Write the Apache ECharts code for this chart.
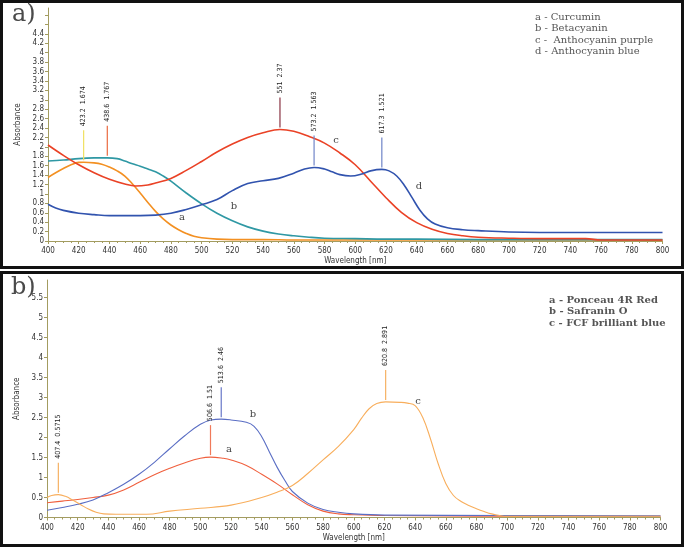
<!DOCTYPE html>
<html>
<head>
<meta charset="utf-8">
<script src="https://cdn.jsdelivr.net/npm/echarts/dist/echarts.min.js"></script>
<style>html,body{margin:0;padding:0;background:#fff}#main{width:685px;height:548px}</style>
</head>
<body>
<div id="main"></div>
<script>
var chart = echarts.init(document.getElementById('main'));

// panel a) natural dyes
var curcuminX = [400,405,410,415,420,423.2,430,435,440,445,450,455,460,465,470,475,480,485,490,495,500,510,520,540,560,600,640,700,780,800];
var curcuminY = [1.35,1.45,1.54,1.62,1.67,1.674,1.66,1.63,1.57,1.49,1.38,1.21,1.02,0.82,0.63,0.47,0.34,0.24,0.16,0.1,0.07,0.04,0.03,0.03,0.02,0.02,0.02,0.02,0.02,0.01];
var betacyaninX = [400,410,420,430,438.6,445,450,455,460,465,470,475,480,490,500,510,520,530,540,550,560,570,580,600,620,640,680,720,800];
var betacyaninY = [1.70,1.72,1.75,1.765,1.767,1.75,1.70,1.64,1.59,1.53,1.47,1.38,1.27,1.02,0.79,0.59,0.43,0.3,0.21,0.15,0.11,0.08,0.06,0.05,0.04,0.04,0.03,0.03,0.03];
var purpleX = [400,410,420,430,440,450,457,465,470,480,490,500,510,520,530,540,551,560,570,580,590,600,610,620,630,640,650,660,670,680,700,720,750,760,800];
var purpleY = [2.04,1.82,1.62,1.45,1.31,1.21,1.17,1.19,1.23,1.33,1.5,1.69,1.89,2.06,2.2,2.3,2.37,2.33,2.22,2.08,1.87,1.62,1.27,0.92,0.61,0.39,0.25,0.16,0.11,0.08,0.06,0.05,0.05,0.02,0.02];
var blueX = [400,405,410,420,430,440,450,460,470,480,490,500,510,520,530,540,550,560,567,573.2,580,585,590,597,605,610,617.3,622,627,632,637,642,647,652,660,670,680,700,720,800];
var blueY = [0.78,0.7,0.65,0.59,0.56,0.54,0.54,0.54,0.55,0.59,0.67,0.77,0.88,1.07,1.22,1.28,1.33,1.44,1.53,1.563,1.53,1.47,1.41,1.38,1.43,1.49,1.521,1.49,1.38,1.18,0.92,0.66,0.47,0.36,0.28,0.24,0.22,0.19,0.18,0.18];
var peakAX = [423.2, 438.6, 551, 573.2, 617.3];
var peakAY = [1.674, 1.767, 2.37, 1.563, 1.521];
var legendA = ['a - Curcumin', 'b - Betacyanin', 'c -  Anthocyanin purple', 'd - Anthocyanin blue'];

// panel b) synthetic dyes
var ponceauX = [400,410,420,430,440,450,460,470,480,490,500,506.6,515,520,530,540,550,560,570,580,590,600,620,660,700,800];
var ponceauY = [0.37,0.41,0.45,0.5,0.56,0.69,0.88,1.07,1.23,1.37,1.48,1.51,1.48,1.44,1.3,1.08,0.84,0.57,0.32,0.16,0.09,0.07,0.05,0.04,0.03,0.03];
var safraninX = [400,410,420,430,440,450,460,470,480,490,500,507,513.6,520,530,535,540,545,550,555,560,570,580,590,600,620,700,800];
var safraninY = [0.18,0.25,0.33,0.44,0.62,0.83,1.08,1.38,1.72,2.05,2.33,2.44,2.46,2.44,2.38,2.28,2.02,1.64,1.26,0.93,0.65,0.36,0.2,0.13,0.09,0.06,0.05,0.04];
var fcfX = [400,403,407.4,412,417,422,427,432,437,445,465,480,500,520,540,550,560,570,580,590,600,605,610,615,620.8,630,635,640,645,650,655,660,665,670,675,680,685,690,695,700,800];
var fcfY = [0.5,0.55,0.5715,0.53,0.43,0.32,0.21,0.13,0.09,0.08,0.08,0.16,0.23,0.31,0.5,0.63,0.8,1.1,1.44,1.78,2.2,2.48,2.72,2.85,2.891,2.88,2.86,2.8,2.5,1.97,1.35,0.85,0.55,0.4,0.3,0.22,0.15,0.09,0.05,0.03,0.03];
var peakBX = [407.4, 506.6, 513.6, 620.8];
var peakBY = [0.5715, 1.51, 2.46, 2.891];
var legendB = ['a - Ponceau 4R Red', 'b - Safranin O', 'c - FCF brilliant blue'];

var peakAColors = ['#f0e060', '#ea6a40', '#8a3444', '#6f84c8', '#6f84c8'];
var peakBColors = ['#f6b264', '#f07a5a', '#6878c8', '#f6b264'];

var axisCol = '#a39c60';
var tickFont = '"Liberation Sans Narrow", "DejaVu Sans Condensed", "Liberation Sans", sans-serif';

function curve(xs, ys, color, width, idx) {
    return {
        type: 'line', xAxisIndex: idx, yAxisIndex: idx,
        data: xs.map(function (x, i) { return [x, ys[i]]; }),
        symbol: 'none', smooth: 0.4,
        lineStyle: { color: color, width: width },
        silent: true, animation: false
    };
}

function peaks(xs, ys, colors, idx) {
    return {
        type: 'custom', xAxisIndex: idx, yAxisIndex: idx,
        data: xs.map(function (x, i) { return [x, ys[i]]; }),
        renderItem: function (params, api) {
            var i = params.dataIndex;
            var p = api.coord([api.value(0), api.value(1)]);
            return {
                type: 'group',
                children: [
                    { type: 'line', shape: { x1: p[0], y1: p[1] - 2, x2: p[0], y2: p[1] - 32 },
                      style: { stroke: colors[i], lineWidth: 1.2 } },
                    { type: 'text', x: p[0], y: p[1] - 36, rotation: Math.PI / 2,
                      style: { text: xs[i] + '  ' + ys[i], align: 'left', verticalAlign: 'middle',
                               fill: '#222', font: '7px ' + tickFont } }
                ]
            };
        },
        silent: true, animation: false, z: 5
    };
}

function xAx(idx) {
    return {
        type: 'value', gridIndex: idx, min: 400, max: 800, interval: 20,
        name: 'Wavelength [nm]', nameLocation: 'middle', nameGap: 16,
        nameTextStyle: { fontSize: 8, color: '#333', fontFamily: tickFont },
        axisLine: { lineStyle: { color: axisCol } },
        axisTick: { length: 3, lineStyle: { color: axisCol } },
        minorTick: { show: true, splitNumber: 4, length: 2, lineStyle: { color: axisCol } },
        axisLabel: { fontSize: 8, color: '#333', margin: 6, fontFamily: tickFont },
        splitLine: { show: false }
    };
}

function yAx(idx, max, interval, top) {
    return {
        type: 'value', gridIndex: idx, min: 0, max: max, interval: interval,
        name: 'Absorbance', nameLocation: 'middle', nameGap: 20,
        nameTextStyle: { fontSize: 8, color: '#333', fontFamily: tickFont },
        axisLine: { show: true, lineStyle: { color: axisCol } },
        axisTick: { show: true, length: 3, lineStyle: { color: axisCol } },
        axisLabel: { fontSize: 8, color: '#333', margin: 4, fontFamily: tickFont, showMaxLabel: false,
            formatter: function (v) { return v > top + 0.01 ? '' : String(+v.toFixed(2)); } },
        splitLine: { show: false }
    };
}

function legendText(lines, x, y, step, weight) {
    return lines.map(function (t, i) {
        return { type: 'text', left: x, top: y + i * step,
                 style: { text: t, fill: '#555', font: weight + ' 10px "DejaVu Serif", serif' } };
    });
}

function letter(t, x, y) {
    return { type: 'text', x: x, y: y,
             style: { text: t, fill: '#444', align: 'center', verticalAlign: 'middle', font: '10px "DejaVu Serif", serif' } };
}

var graphics = [
    { type: 'rect', shape: { x: 1.5, y: 1.5, width: 681, height: 266 }, style: { fill: 'none', stroke: '#111', lineWidth: 3 } },
    { type: 'rect', shape: { x: 1.5, y: 272.5, width: 681, height: 273 }, style: { fill: 'none', stroke: '#111', lineWidth: 3 } },
    { type: 'text', left: 12, top: 3, style: { text: 'a)', fill: '#4a4a4a', font: '24px "DejaVu Serif", serif' } },
    { type: 'text', left: 11, top: 276, style: { text: 'b)', fill: '#4a4a4a', font: '24px "DejaVu Serif", serif' } },
    letter('a', 182, 217), letter('b', 234, 206), letter('c', 336, 140), letter('d', 419, 186),
    letter('a', 229, 449), letter('b', 253, 414), letter('c', 418, 401)
].concat(legendText(legendA, 535, 12, 11.5, 'normal'))
 .concat(legendText(legendB, 549, 295, 11.5, 'bold'));

var option = {
    backgroundColor: '#fff',
    animation: false,
    grid: [
        { left: 48, right: 22.5, top: 8, bottom: 307 },
        { left: 47, right: 24.5, top: 280, bottom: 30.5 }
    ],
    xAxis: [xAx(0), xAx(1)],
    yAxis: [yAx(0, 4.95, 0.2, 4.4), yAx(1, 5.94, 0.5, 5.5)],
    series: [
        curve(curcuminX, curcuminY, '#f39022', 1.6, 0),
        curve(betacyaninX, betacyaninY, '#2f98a4', 1.6, 0),
        curve(purpleX, purpleY, '#ea4226', 1.6, 0),
        curve(blueX, blueY, '#3153ae', 1.6, 0),
        peaks(peakAX, peakAY, peakAColors, 0),
        curve(ponceauX, ponceauY, '#f0603e', 1.1, 1),
        curve(safraninX, safraninY, '#5a6ec4', 1.1, 1),
        curve(fcfX, fcfY, '#f8ae5c', 1.1, 1),
        peaks(peakBX, peakBY, peakBColors, 1)
    ],
    graphic: graphics
};

chart.setOption(option);
window.onresize = chart.resize;
</script>
</body>
</html>
